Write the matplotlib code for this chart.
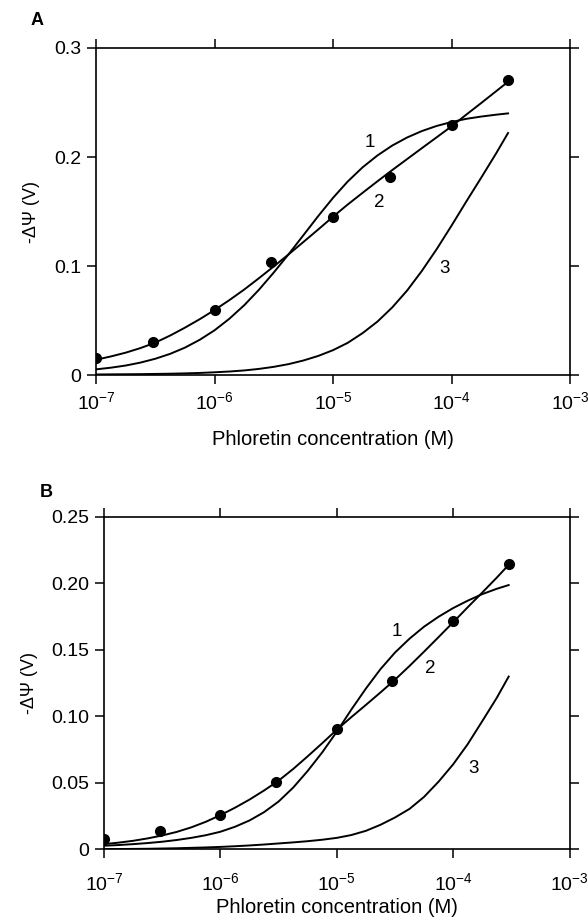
import matplotlib
matplotlib.use("Agg")
import matplotlib.pyplot as plt

plt.rcParams['font.family'] = ['Liberation Sans', 'DejaVu Sans']
plt.rcParams['mathtext.fontset'] = 'custom'
plt.rcParams['mathtext.rm'] = 'Liberation Sans'
plt.rcParams['mathtext.default'] = 'regular'
plt.rcParams['axes.unicode_minus'] = False

# concentrations of the measured points (M)
conc_pts = [1e-7, 3e-7, 1e-6, 3e-6, 1e-5, 3e-5, 1e-4, 3e-4]
conc_fit = [1.00e-7, 1.33e-7, 1.78e-7, 2.37e-7, 3.16e-7, 4.22e-7, 5.62e-7, 7.50e-7,
            1.00e-6, 1.33e-6, 1.78e-6, 2.37e-6, 3.16e-6, 4.22e-6, 5.62e-6, 7.50e-6,
            1.00e-5, 1.33e-5, 1.78e-5, 2.37e-5, 3.16e-5, 4.22e-5, 5.62e-5, 7.50e-5,
            1.00e-4, 1.33e-4, 1.78e-4, 2.37e-4, 3.00e-4]

# panel A
a_pts = [0.0155, 0.0300, 0.0596, 0.1034, 0.1452, 0.1815, 0.2298, 0.2710]
a_curve1 = [0.0052, 0.0067, 0.0087, 0.0114, 0.0149, 0.0194, 0.0251, 0.0323,
            0.0410, 0.0515, 0.0640, 0.0782, 0.0940, 0.1108, 0.1282, 0.1458,
            0.1625, 0.1775, 0.1906, 0.2014, 0.2105, 0.2179, 0.2238, 0.2285,
            0.2321, 0.2350, 0.2371, 0.2388, 0.2400]
a_curve2 = [0.0140, 0.0170, 0.0205, 0.0247, 0.0297, 0.0362, 0.0434, 0.0512,
            0.0596, 0.0686, 0.0784, 0.0888, 0.0996, 0.1107, 0.1220, 0.1335,
            0.1452, 0.1564, 0.1672, 0.1777, 0.1880, 0.1981, 0.2081, 0.2181,
            0.2281, 0.2388, 0.2495, 0.2602, 0.2690]
a_curve3 = [0.0005, 0.0006, 0.0007, 0.0008, 0.0010, 0.0012, 0.0015, 0.0019,
            0.0025, 0.0032, 0.0042, 0.0056, 0.0075, 0.0100, 0.0133, 0.0175,
            0.0228, 0.0295, 0.0385, 0.0490, 0.0620, 0.0775, 0.0955, 0.1155,
            0.1370, 0.1590, 0.1810, 0.2030, 0.2220]

# panel B
b_pts = [0.0078, 0.0140, 0.0258, 0.0508, 0.0905, 0.1265, 0.1716, 0.2143]
b_curve1 = [0.0028, 0.0033, 0.0040, 0.0048, 0.0058, 0.0071, 0.0087, 0.0107,
            0.0133, 0.0170, 0.0218, 0.0280, 0.0360, 0.0465, 0.0590, 0.0730,
            0.0885, 0.1050, 0.1210, 0.1355, 0.1480, 0.1585, 0.1675, 0.1750,
            0.1815, 0.1870, 0.1920, 0.1960, 0.1988]
b_curve2 = [0.0040, 0.0051, 0.0065, 0.0083, 0.0105, 0.0132, 0.0166, 0.0208,
            0.0258, 0.0313, 0.0375, 0.0443, 0.0517, 0.0605, 0.0700, 0.0799,
            0.0900, 0.0994, 0.1087, 0.1180, 0.1276, 0.1380, 0.1487, 0.1597,
            0.1708, 0.1820, 0.1932, 0.2044, 0.2140]
b_curve3 = [0.0002, 0.0003, 0.0004, 0.0005, 0.0007, 0.0009, 0.0012, 0.0015,
            0.0019, 0.0024, 0.0030, 0.0037, 0.0045, 0.0053, 0.0062, 0.0073,
            0.0087, 0.0108, 0.0140, 0.0185, 0.0240, 0.0305, 0.0395, 0.0510,
            0.0640, 0.0790, 0.0965, 0.1140, 0.1300]

x_ticks = [1e-7, 1e-6, 1e-5, 1e-4, 1e-3]
x_ticklabels = ['$10^{-7}$', '$10^{-6}$', '$10^{-5}$', '$10^{-4}$', '$10^{-3}$']
a_yticks = [0, 0.1, 0.2, 0.3]
a_yticklabels = ['0', '0.1', '0.2', '0.3']
b_yticks = [0, 0.05, 0.10, 0.15, 0.20, 0.25]
b_yticklabels = ['0', '0.05', '0.10', '0.15', '0.20', '0.25']

# curve numbers (conc, value, text)
a_labels = [(2.05e-5, 0.213, '1'), (2.45e-5, 0.158, '2'), (8.8e-5, 0.098, '3')]
b_labels = [(3.3e-5, 0.164, '1'), (6.3e-5, 0.136, '2'), (1.5e-4, 0.061, '3')]

fig = plt.figure(figsize=(5.88, 9.23), dpi=100)
axA = fig.add_axes([0.1633, 0.5937, 0.8061, 0.3543])
axB = fig.add_axes([0.1769, 0.0797, 0.7917, 0.3602])


def draw(ax, pts, c1, c2, c3, yticks, yticklabels, ymax, labels, xpad, xlabpad):
    for c in (c1, c2, c3):
        ax.plot(conc_fit, c, color='black', lw=1.4)
    ax.plot(conc_pts, pts, 'o', color='black', ms=7)
    ax.set_xscale('log')
    ax.set_xlim(1e-7, 1e-3)
    ax.set_ylim(0, ymax)
    ax.set_xticks(x_ticks)
    ax.set_xticklabels(x_ticklabels)
    ax.minorticks_off()
    ax.set_yticks(yticks)
    ax.set_yticklabels(yticklabels)
    ax.tick_params(direction='out', top=True, right=True, length=6.5, width=1.1,
                   labelsize=14, pad=4)
    ax.tick_params(axis='x', pad=xpad)
    for s in ax.spines.values():
        s.set_linewidth(1.2)
    ax.set_xlabel('Phloretin concentration (M)', fontsize=14.5, labelpad=xlabpad)
    ax.set_ylabel('-\u0394\u03a8 (V)', fontsize=13, labelpad=10)
    for x, y, t in labels:
        ax.text(x, y, t, fontsize=13.5, ha='center', va='center')


draw(axA, a_pts, a_curve1, a_curve2, a_curve3, a_yticks, a_yticklabels, 0.3,
     a_labels, 5, 12)
draw(axB, b_pts, b_curve1, b_curve2, b_curve3, b_yticks, b_yticklabels, 0.25,
     b_labels, 10, 3)

fig.text(36.7 / 588, 1 - 20.7 / 923, 'A', fontsize=13, fontweight='bold', ha='center', va='center')
fig.text(46 / 588, 1 - 492 / 923, 'B', fontsize=13, fontweight='bold', ha='center', va='center')

plt.savefig('out.png', dpi=100)
